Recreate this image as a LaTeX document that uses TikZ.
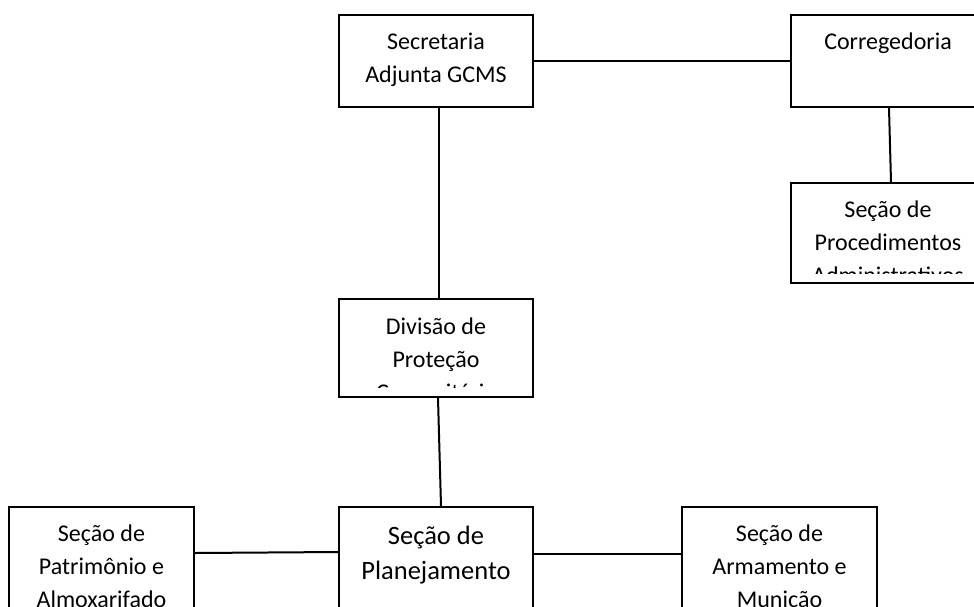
\documentclass[tikz,border=0pt]{standalone}
\usepackage{fontspec}
\setmainfont{Carlito}
\tikzset{
  orgbox/.style={draw, line width=2pt, inner sep=0pt, minimum width=194pt},
  orgtext/.style={anchor=base, inner sep=0pt, font=\fontsize{24}{33}\selectfont},
  bigtext/.style={orgtext, font=\fontsize{26.5}{35}\selectfont},
  link/.style={line width=2pt},
}
\newcommand{\linhas}[1]{\parbox[t]{190pt}{\centering #1}}

\begin{document}
\begin{tikzpicture}[x=1pt,y=-1pt]
    % Page
    \clip (0,0) rectangle (974,606);
    \fill[white] (0,0) rectangle (974,606);

    % Top row
    \node[orgbox, minimum height=92pt] (sec) at (436,61) {};
    \node[orgbox, minimum height=92pt] (cor) at (888,61) {};
    \node[orgtext] (sec-t) at ([yshift=-35pt]sec.north) {\linhas{Secretaria\\Adjunta GCMS}};
    \node[orgtext] (cor-t) at ([yshift=-35pt]cor.north) {\linhas{Corregedoria}};

    % Procedimentos (text cut off)
    \node[orgbox, minimum height=100pt] (proc) at (888,233) {};
    \begin{scope}
        \clip (proc.north west) rectangle ([yshift=11pt]proc.south east);
        \node[orgtext] (proc-t) at ([yshift=-35pt]proc.north) {\linhas{Seção de\\Procedimentos\\Administrativos}};
    \end{scope}

    % Divisao (text cut off)
    \node[orgbox, minimum height=98pt] (div) at (436,348) {};
    \begin{scope}
        \clip (div.north west) rectangle ([yshift=11pt]div.south east);
        \node[orgtext] (div-t) at ([yshift=-36pt]div.north) {\linhas{Divisão de\\Proteção\\Comunitária}};
    \end{scope}

    % Bottom row, runs off the page
    \node[orgbox, minimum height=110pt, minimum width=185pt] (pat) at (101.5,562) {};
    \node[orgbox, minimum height=110pt] (pla) at (436,562) {};
    \node[orgbox, minimum height=110pt, minimum width=195pt] (arm) at (779.5,562) {};
    \node[orgtext] (pat-t) at ([yshift=-35pt]pat.north) {\linhas{Seção de\\Patrimônio e\\Almoxarifado}};
    \node[bigtext] (pla-t) at ([yshift=-38pt]pla.north) {\linhas{Seção de\\Planejamento}};
    \node[orgtext] (arm-t) at ([yshift=-35pt]arm.north) {\linhas{Seção de\\Armamento e\\Munição}};

    % Connectors
    \draw[link] (sec.east) -- (cor.west);
    \draw[link] ([xshift=3pt]sec.south) -- ([xshift=3pt]div.north);
    \draw[link] ([xshift=1pt]cor.south) -- ([xshift=3pt]proc.north);
    \draw[link] ([xshift=2pt]div.south) -- ([xshift=5pt]pla.north);
    \draw[link] ([yshift=9pt]pat.east) -- ([yshift=10pt]pla.west);
    \draw[link] ([yshift=8pt]pla.east) -- ([yshift=8pt]arm.west);
\end{tikzpicture}
\end{document}
